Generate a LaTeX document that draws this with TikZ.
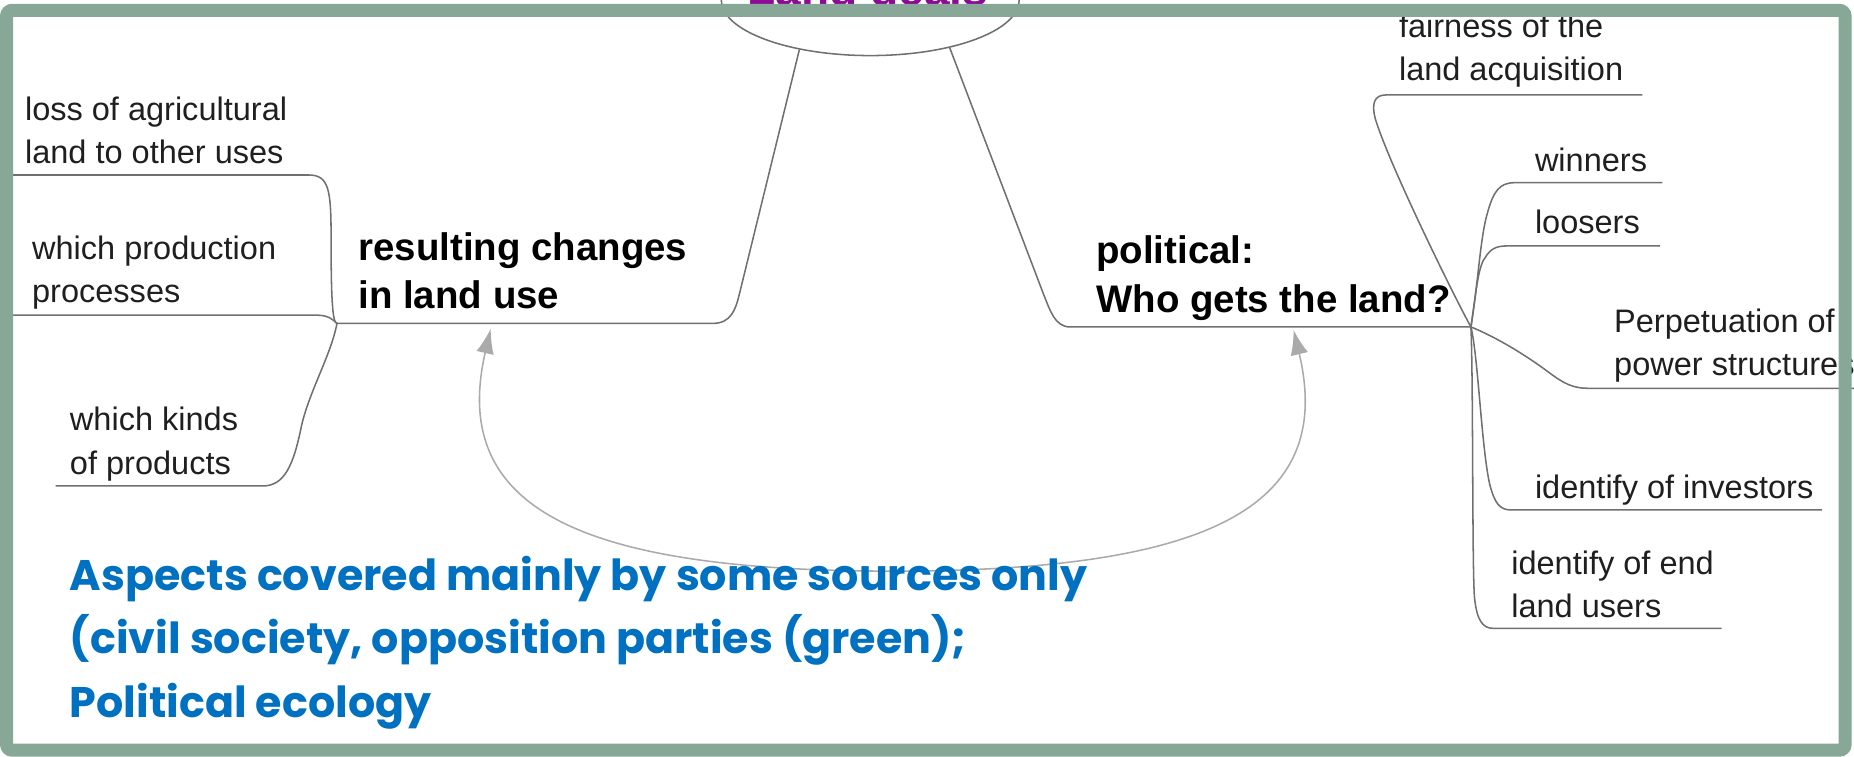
\documentclass[tikz,border=0pt]{standalone}
\usepackage{fontspec}
\setmainfont{Liberation Sans}
\newfontfamily\blueface{Poppins}
\usetikzlibrary{arrows.meta,shapes.geometric}
\definecolor{frameG}{RGB}{135,168,150}
\definecolor{lineG}{RGB}{112,112,112}
\definecolor{arrG}{RGB}{170,170,170}
\definecolor{txtB}{RGB}{0,112,192}
\definecolor{purp}{RGB}{140,10,150}
\begin{document}
\begin{tikzpicture}[x=1pt,y=-1pt,
  leaf/.style={font=\fontsize{27.5}{36.5}\selectfont, align=left, anchor=base west, inner sep=0pt, text=black!88},
  head/.style={font=\fontsize{32.5}{41}\selectfont\bfseries, align=left, anchor=base west, inner sep=0pt},
  conn/.style={draw=lineG, line width=1.3pt},
  arr/.style={draw=arrG, line width=1.3pt, {Latex[length=21pt,width=15pt]}-{Latex[length=21pt,width=15pt]}},
  frame/.style={draw=frameG, line width=11pt, rounded corners=5pt}
]
\useasboundingbox (0,0) rectangle (1568,640);
% root
\node[draw=lineG, line width=1.3pt, ellipse, minimum width=252pt, minimum height=94pt, inner sep=0pt, fill=white] (root) at (736,0) {};
\node[font=\fontsize{39}{39}\selectfont\bfseries, text=purp, anchor=base, inner sep=0pt] (title) at (734,5) {Land deals};
% junctions
\coordinate (JL) at (285,273.5);
\coordinate (JR) at (1244,276.5);
% text nodes (anchor = baseline of last line)
\node[leaf] (a1) at (21,138) {loss of agricultural\\land to other uses};
\node[leaf] (a2) at (27,256) {which production\\processes};
\node[leaf] (a3) at (59,401) {which kinds\\of products};
\node[head] (r) at (303,261) {resulting changes\\in land use};
\node[head] (p) at (927,264) {political:\\Who gets the land?};
\node[leaf] (b1) at (1183,68.5) {fairness of the\\land acquisition};
\node[leaf] (b2) at (1298,145) {winners};
\node[leaf] (b3) at (1298,197.5) {loosers};
\node[leaf] (b4) at (1365,317.5) {Perpetuation of\\power structures};
\node[leaf] (b5) at (1298,422) {identify of investors};
\node[leaf] (b6) at (1278,522) {identify of end\\land users};
% free ends of underlines
\coordinate (a1e) at (6,148);
\coordinate (a2e) at (6,266.5);
\coordinate (a3e) at (47,411);
\coordinate (b1e) at (1389,80.3);
\coordinate (b2e) at (1406,154.5);
\coordinate (b3e) at (1404,208);
\coordinate (b4e) at (1568,328.4);
\coordinate (b5e) at (1541,431.3);
\coordinate (b6e) at (1456,531.4);
% main branches
\draw[conn] (root.215) -- (625,250) .. controls (622,262) and (618,273.5) .. (603,273.5) -- (JL);
\draw[conn] (root.329) -- (883,250) .. controls (888,262) and (892,276.5) .. (905,276.5) -- (JR);
% left leaves
\draw[conn] (JL) .. controls (281,273.5) and (280,250) .. (280,200) .. controls (280,160) and (278,148) .. (261,148) -- (a1e);
\draw[conn] (JL) .. controls (281,270) and (278,266.5) .. (267,266.5) -- (a2e);
\draw[conn] (JL) .. controls (280,300) and (262,330) .. (255,360) .. controls (248,395) and (240,411) .. (222,411) -- (a3e);
% right leaves
\draw[conn] (JR) .. controls (1232,255) and (1175,140) .. (1163,100) .. controls (1160,88) and (1162,80.3) .. (1172,80.3) -- (b1e);
\draw[conn] (JR) .. controls (1250,240) and (1252,200) .. (1258,180) .. controls (1263,162) and (1268,154.5) .. (1281,154.5) -- (b2e);
\draw[conn] (JR) .. controls (1248,250) and (1250,225) .. (1256,218) .. controls (1260,211) and (1265,208) .. (1274,208) -- (b3e);
\draw[conn] (JR) .. controls (1265,285) and (1290,300) .. (1310,315) .. controls (1322,324) and (1330,328.4) .. (1343,328.4) -- (b4e);
\draw[conn] (JR) .. controls (1250,300) and (1253,380) .. (1260,410) .. controls (1264,425) and (1268,431.3) .. (1278,431.3) -- (b5e);
\draw[conn] (JR) .. controls (1246,320) and (1245,480) .. (1247,505) .. controls (1249,525) and (1254,531.4) .. (1263,531.4) -- (b6e);
% relation arrow
\coordinate (tipL) at (415,278);
\coordinate (tipR) at (1094,279);
\coordinate (bot) at (755,483);
\draw[arr] (tipL) .. controls (380,430) and (490,483) .. (bot) .. controls (1020,483) and (1130,430) .. (tipR);
% note
\node[anchor=base west, inner sep=0pt, font=\blueface\bfseries\fontsize{36.2}{54}\selectfont, text=txtB, align=left] (note) at (59,607) {Aspects covered mainly by some sources only\\(civil society, opposition parties (green);\\Political ecology};
% frame
\draw[frame] (5.5,8.7) rectangle (1560.5,634.5);
\end{tikzpicture}
\end{document}
